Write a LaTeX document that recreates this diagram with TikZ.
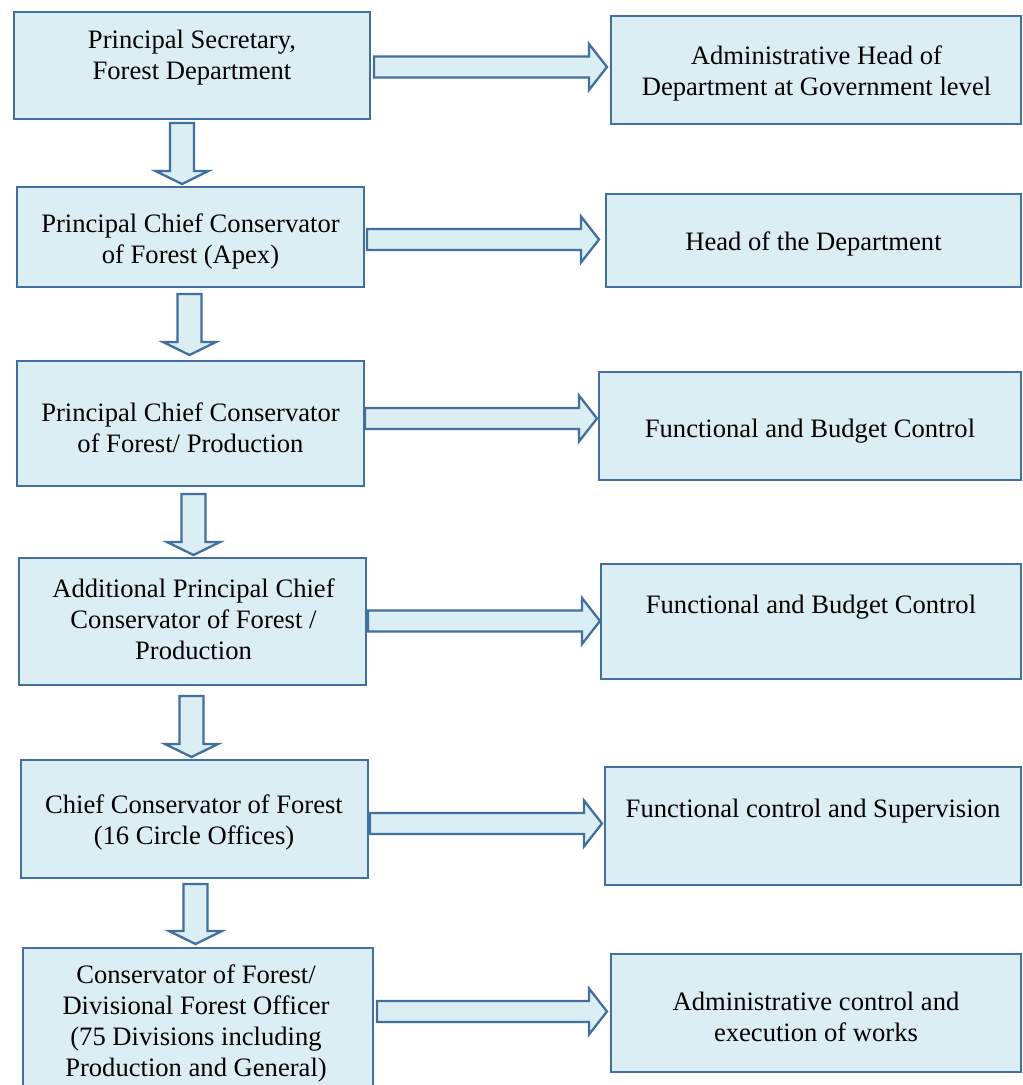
\documentclass[tikz,border=0pt]{standalone}
\usepackage{fontspec}
\setmainfont{Liberation Serif}
\usetikzlibrary{fit}
\definecolor{boxfill}{HTML}{DBEEF4}
\definecolor{boxline}{HTML}{41709F}

% horizontal block arrow: start x, tip x, centre y
\newcommand{\harrow}[3]{%
  \draw[blockarrow] (#1,#3-10.5) -- (#2-18,#3-10.5) -- (#2-18,#3-23) -- (#2,#3)
    -- (#2-18,#3+23) -- (#2-18,#3+10.5) -- (#1,#3+10.5) -- cycle;}
% vertical block arrow: centre x, top y, tip y
\newcommand{\varrow}[3]{%
  \draw[blockarrow] (#1-12,#2) -- (#1+12,#2) -- (#1+12,#3-13) -- (#1+26.5,#3-13)
    -- (#1,#3) -- (#1-26.5,#3-13) -- (#1-12,#3-13) -- cycle;}

\begin{document}
\begin{tikzpicture}[x=1pt,y=-1pt,
  box/.style={draw=boxline, fill=boxfill, line width=2.3pt, inner sep=0pt},
  lbl/.style={align=center, font=\fontsize{26.6}{31}\selectfont, inner sep=0pt, text=black},
  blockarrow/.style={draw=boxline, fill=boxfill, line width=2.3pt, line join=miter}]
\useasboundingbox (0,0) rectangle (1023,1085);
\clip (0,0) rectangle (1023,1085);

% left column
\node[box, fit={(14,12) (370,119)}] (l1) {};
\node[box, fit={(17,187) (364,287)}] (l2) {};
\node[box, fit={(17,361) (364,486)}] (l3) {};
\node[box, fit={(19,558) (366,685)}] (l4) {};
\node[box, fit={(21,760) (368,878)}] (l5) {};
\node[box, fit={(23,948) (373,1100)}] (l6) {};

% right column
\node[box, fit={(611,16) (1021,124)}] (r1) {};
\node[box, fit={(606,194) (1021,287)}] (r2) {};
\node[box, fit={(599,372) (1021,480)}] (r3) {};
\node[box, fit={(601,564) (1021,679)}] (r4) {};
\node[box, fit={(605,767) (1021,885)}] (r5) {};
\node[box, fit={(611,954) (1021,1072)}] (r6) {};

% labels
\node[lbl] (t1) at (192,58) {Principal Secretary,\\Forest Department};
\node[lbl] (t2) at (190.5,241.5) {Principal Chief Conservator\\of Forest (Apex)};
\node[lbl] (t3) at (190.5,427.5) {Principal Chief Conservator\\of Forest/ Production};
\node[lbl] (t4) at (193.5,619) {Additional Principal Chief\\Conservator of Forest /\\Production};
\node[lbl] (t5) at (194,822.5) {Chief Conservator of Forest\\(16 Circle Offices)};
\node[lbl] (t6) at (196,1023.5) {Conservator of Forest/\\Divisional Forest Officer\\(75 Divisions including\\Production and General)};

\node[lbl] (u1) at (816.5,73.5) {Administrative Head of\\Department at Government level};
\node[lbl] (u2) at (813.5,244) {Head of the Department};
\node[lbl] (u3) at (810,431) {Functional and Budget Control};
\node[lbl] (u4) at (811,607) {Functional and Budget Control};
\node[lbl] (u5) at (813,811) {Functional control and Supervision};
\node[lbl] (u6) at (816,1016.5) {Administrative control and\\execution of works};

% arrows to the right
\harrow{374}{607}{67}
\harrow{367}{599}{239.5}
\harrow{365}{597}{418.5}
\harrow{368}{600}{621}
\harrow{370}{602}{823.5}
\harrow{377}{607}{1011.5}

% arrows downward
\varrow{182}{123}{184}
\varrow{189.5}{294}{355}
\varrow{193.5}{494}{555}
\varrow{191.5}{696}{757}
\varrow{195.5}{884}{944}
\end{tikzpicture}
\end{document}
